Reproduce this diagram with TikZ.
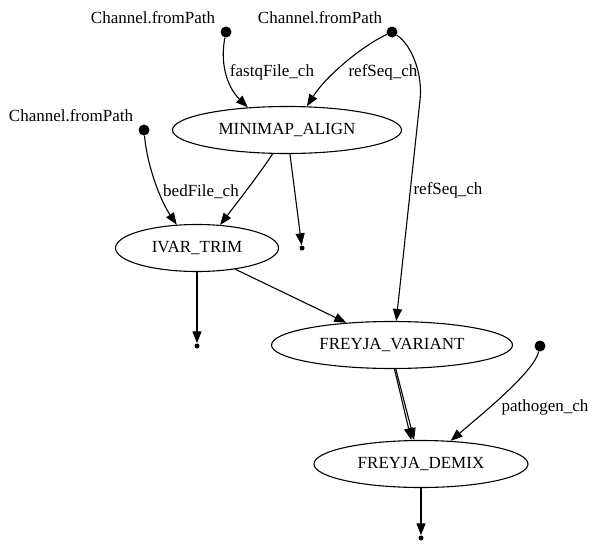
\documentclass[tikz,border=0pt]{standalone}
\usepackage{fontspec}
\setmainfont{Liberation Serif}
\usetikzlibrary{shapes.geometric,arrows.meta}
\begin{document}
\begin{tikzpicture}[x=1pt,y=-1pt,
  every node/.style={font=\fontsize{17}{20}\selectfont},
  proc/.style={draw,ellipse,line width=1.1pt,minimum height=47pt,inner sep=0pt},
  bigdot/.style={circle,fill=black,minimum size=11pt,inner sep=0pt},
  smalldot/.style={circle,fill=black,minimum size=5pt,inner sep=0pt},
  lbl/.style={inner sep=0pt},
  conn/.style={line width=1.1pt,-{Triangle[length=12pt,width=9pt]}}]
\useasboundingbox (0,0) rectangle (596,546);

% source points
\node[bigdot] (p1) at (226,32) {};
\node[bigdot] (p2) at (392,32) {};
\node[bigdot] (p3) at (144,130) {};
\node[bigdot] (p4) at (540,346) {};
\node[lbl] (l1) at (153,18) {Channel.fromPath};
\node[lbl] (l2) at (320,18) {Channel.fromPath};
\node[lbl] (l3) at (71,116) {Channel.fromPath};

% processes
\node[proc,minimum width=229pt] (minimap) at (287,130) {MINIMAP\_ALIGN};
\node[proc,minimum width=163pt] (ivar) at (197,248) {IVAR\_TRIM};
\node[proc,minimum width=241pt] (variant) at (392,345) {FREYJA\_VARIANT};
\node[proc,minimum width=214pt] (demix) at (421,464) {FREYJA\_DEMIX};

% sinks
\node[smalldot] (s1) at (302,248) {};
\node[smalldot] (s2) at (197,346) {};
\node[smalldot] (s3) at (421,538) {};

% edges
\draw[conn] (p1) .. controls (219,68) and (230,90) .. (minimap.150);
\draw[conn] (p2) .. controls (362,46) and (326,76) .. (minimap.50);
\draw[conn] (p2) .. controls (412,45) and (423,75) .. (420,100) -- (variant.80);
\draw[conn] (p3) .. controls (147,165) and (160,200) .. (ivar.131);
\draw[conn] (minimap.239) .. controls (258,176) and (236,204) .. (ivar.45);
\draw[conn] (minimap.277) -- (s1);
\draw[conn] (ivar.south) -- (s2);
\draw[conn] (ivar.331) -- (variant.154);
\draw[conn] (variant.276) -- (demix.112);
\draw[conn] (variant.279) -- (demix.106);
\draw[conn] (p4) .. controls (534,372) and (482,414) .. (demix.38);
\draw[conn] (demix.south) -- (s3);

% edge labels
\node[lbl] (e1) at (272,72) {fastqFile\_ch};
\node[lbl] (e2) at (383,72) {refSeq\_ch};
\node[lbl] (e3) at (201,192) {bedFile\_ch};
\node[lbl] (e4) at (448,190) {refSeq\_ch};
\node[lbl] (e5) at (545,407) {pathogen\_ch};
\end{tikzpicture}
\end{document}
